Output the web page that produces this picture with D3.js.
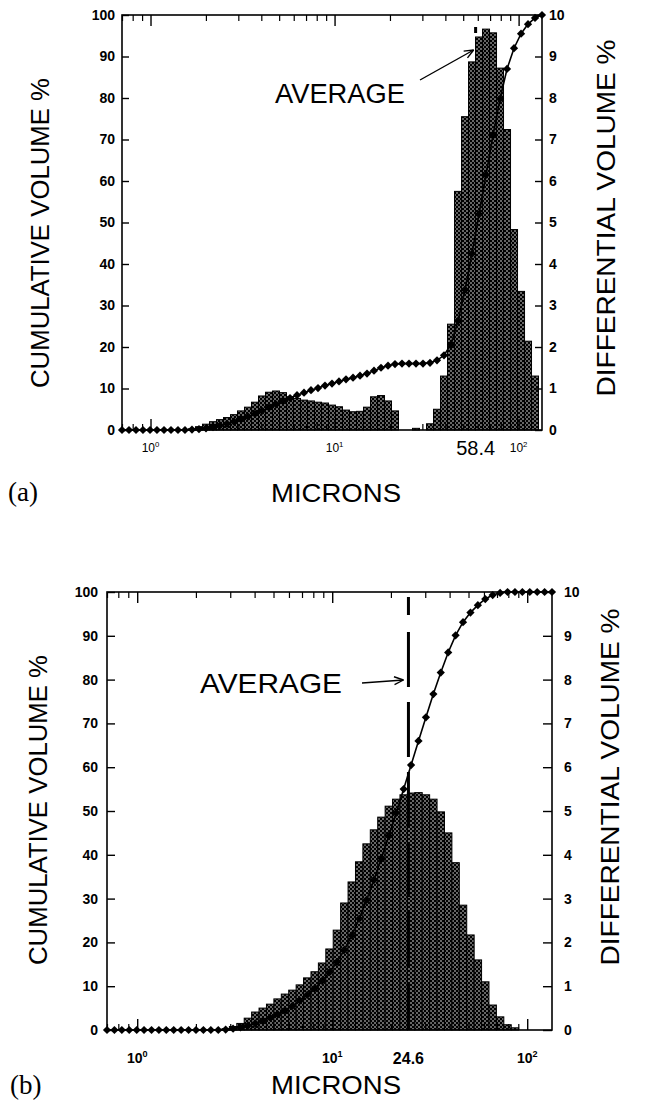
<!DOCTYPE html>
<html><head><meta charset="utf-8">
<script src="https://cdn.jsdelivr.net/npm/d3@7"></script>
<style>body{margin:0;background:#fff}svg{display:block}</style>
</head><body>
<svg id="c" width="645" height="1114"></svg>
<script>
// ---------- DATA ----------
const sizes = [0.700,0.764,0.834,0.910,0.994,1.084,1.184,1.292,1.410,1.539,1.680,1.834,2.002,2.185,2.385,2.604,2.842,3.102,3.386,3.696,4.034,4.404,4.807,5.247,5.727,6.252,6.824,7.447,8.130,8.874,9.686,10.57,11.54,12.60,13.75,15.01,16.38,17.88,19.52,21.30,23.25,25.38,27.70,30.24,33.01,36.03,39.33,42.93,46.86,51.15,55.84,60.94,66.52,72.61,79.26,86.51,94.43,103.1,112.5,122.8,134.0];

const diffA = [0,0,0,0,0,0,0,0,0,0,0.03,0.08,0.14,0.2,0.25,0.3,0.37,0.46,0.55,0.67,0.82,0.91,0.94,0.9,0.8,0.76,0.72,0.7,0.67,0.65,0.6,0.56,0.48,0.44,0.45,0.55,0.8,0.83,0.7,0.46,0,0,0.04,0,0.15,0.5,1.3,2.55,5.75,7.55,8.87,9.47,9.66,9.57,8.72,7.24,4.83,3.34,2.14,1.3,0];
const cumA = [0,0,0,0,0,0,0,0,0,0,0.1,0.2,0.4,0.7,1.1,1.5,2.0,2.6,3.2,3.9,4.6,5.4,6.2,7.0,7.7,8.4,9.0,9.6,10.1,10.7,11.2,11.7,12.2,12.6,13.1,13.6,14.3,15.0,15.5,15.9,16.0,16.0,16.0,16.0,16.2,16.8,18.0,20.6,26.3,33.8,42.5,52.0,61.5,71.0,79.8,87.0,92.0,95.5,97.8,99.3,100];

const diffB = [0,0,0,0,0,0,0,0,0,0,0,0,0,0,0,0,0.03,0.08,0.15,0.27,0.41,0.5,0.59,0.71,0.82,0.91,1.03,1.19,1.33,1.53,1.85,2.28,2.9,3.38,3.84,4.25,4.57,4.86,5.11,5.27,5.37,5.41,5.42,5.37,5.27,4.98,4.5,3.82,2.85,2.17,1.6,1.1,0.57,0.3,0.12,0.05,0,0,0,0,0];
const cumB = [0,0,0,0,0,0,0,0,0,0,0,0,0,0,0,0,0.1,0.3,0.6,1.0,1.5,2.1,2.8,3.6,4.5,5.5,6.7,8.0,9.5,11.2,13.2,15.5,18.3,21.6,25.4,29.7,34.3,39.2,44.3,49.6,55.0,60.5,66.0,71.4,76.7,81.6,86.2,90.1,93.1,95.3,97.0,98.4,99.3,99.8,100,100,100,100,100,100,100];

const averageA = 58.4, averageB = 24.6;
const leftTicks = [0,10,20,30,40,50,60,70,80,90,100];
const rightTicks = [0,1,2,3,4,5,6,7,8,9,10];
const xMajor = [1,10,100];
const xMinor = [0.7,0.8,0.9,2,3,4,5,6,7,8,9,20,30,40,50,60,70,80,90];
const xDecadeLabels = [{v:1,e:"0"},{v:10,e:"1"},{v:100,e:"2"}];
const texts = {yLeft:"CUMULATIVE VOLUME %", yRight:"DIFFERENTIAL VOLUME %", x:"MICRONS", avg:"AVERAGE"};

// ---------- LAYOUT ----------
const A = {x0:122,x1:542,y0:15,y1:430, tickL:7,tickR:7,padL:7,padR:7, lblFont:14, decFont:12, decBase:452, avgFont:20, avgBase:455, bold:"normal",
  tag:"(a)", tagX:8, tagY:501, micX:336, micY:502, yLx:40, yLy:233, yRx:606, yRy:218,
  avgTx:275, avgTy:103, avgTs:27, avgTl:130, arr:[420,80,-2,50], dashTop:27, dash:"6 40", dashBelow:true};
const B = {x0:107,x1:552,y0:592,y1:1030, tickL:8,tickR:9,padL:9,padR:12, lblFont:14, decFont:14, decBase:1063, avgFont:16, avgBase:1064, bold:"bold",
  tag:"(b)", tagX:10, tagY:1094, micX:336, micY:1094, yLx:38, yLy:810, yRx:610, yRy:787,
  avgTx:200, avgTy:693, avgTs:28, avgTl:142, arr:[362,683,-5,680], dashTop:597, dash:"18 17 55 15 55 15 55 15 55 15 55 15 55 15 55 15", dashBelow:false};

const svg = d3.select('#c');
const SANS = "'Liberation Sans', Arial, Helvetica, sans-serif";
const defs = svg.append('defs');
const pat = defs.append('pattern').attr('id','dots').attr('patternUnits','userSpaceOnUse')
  .attr('width',4).attr('height',4);
pat.append('rect').attr('width',4).attr('height',4).attr('fill','#000');
pat.append('circle').attr('cx',1).attr('cy',1).attr('r',0.75).attr('fill','#fff');
pat.append('circle').attr('cx',3).attr('cy',3).attr('r',0.75).attr('fill','#fff');

function panel(P, cum, diff, avg) {
  const g = svg.append('g');
  const x = d3.scaleLog().domain([sizes[0], sizes[sizes.length-1]]).range([P.x0, P.x1]);
  const yC = d3.scaleLinear().domain([0,100]).range([P.y1, P.y0]);
  const yD = d3.scaleLinear().domain([0,10]).range([P.y1, P.y0]);
  const n = sizes.length;
  const edgeLo = i => i === 0 ? sizes[0] : Math.sqrt(sizes[i-1]*sizes[i]);
  const edgeHi = i => i === n-1 ? sizes[n-1] : Math.sqrt(sizes[i]*sizes[i+1]);

  const avgLine = () => g.append('line')
      .attr('x1', x(avg)).attr('x2', x(avg)).attr('y1', P.dashTop).attr('y2', P.y1)
      .attr('stroke','#000').attr('stroke-width',3).attr('stroke-dasharray', P.dash);
  if (P.dashBelow) avgLine();

  // bars
  g.append('g').selectAll('rect').data(diff.map((v,i)=>({v,i})).filter(d=>d.v>0)).join('rect')
    .attr('x', d=>x(edgeLo(d.i))).attr('width', d=>x(edgeHi(d.i))-x(edgeLo(d.i)))
    .attr('y', d=>yD(d.v)).attr('height', d=>P.y1-yD(d.v))
    .attr('fill','url(#dots)').attr('stroke','#000').attr('stroke-width',1);

  if (!P.dashBelow) avgLine();

  // axes
  const styleText = s => s.selectAll('text').attr('font-family',SANS).attr('font-size',P.lblFont)
      .attr('font-weight','bold').attr('fill','#000');
  g.append('g').attr('transform',`translate(${P.x0},0)`)
    .call(d3.axisLeft(yC).tickValues(leftTicks).tickSize(-P.tickL).tickSizeOuter(0).tickPadding(P.padL))
    .call(s=>s.select('.domain').remove()).call(styleText)
    .call(s=>s.selectAll('line').attr('stroke-width',1.4));
  g.append('g').attr('transform',`translate(${P.x1},0)`)
    .call(d3.axisRight(yD).tickValues(rightTicks).tickSize(-P.tickR).tickSizeOuter(0).tickPadding(P.padR))
    .call(s=>s.select('.domain').remove()).call(styleText)
    .call(s=>s.selectAll('line').attr('stroke-width',1.4));
  [[d3.axisTop, P.y0],[d3.axisBottom, P.y1]].forEach(([ax, yy]) => {
    g.append('g').attr('transform',`translate(0,${yy})`)
      .call(ax(x).tickValues(xMajor).tickSize(-11).tickSizeOuter(0).tickFormat(''))
      .call(s=>s.select('.domain').remove()).call(s=>s.selectAll('line').attr('stroke-width',1.4));
    g.append('g').attr('transform',`translate(0,${yy})`)
      .call(ax(x).tickValues(xMinor).tickSize(-6).tickSizeOuter(0).tickFormat(''))
      .call(s=>s.select('.domain').remove()).call(s=>s.selectAll('line').attr('stroke-width',1.2));
  });

  // cumulative curve
  g.append('path').datum(cum.map((v,i)=>[sizes[i],v]))
    .attr('d', d3.line().x(d=>x(d[0])).y(d=>yC(d[1])))
    .attr('fill','none').attr('stroke','#000').attr('stroke-width',1.6);
  const sym = d3.symbol(d3.symbolSquare, 34);
  g.append('g').selectAll('path').data(cum.map((v,i)=>[sizes[i],v])).join('path')
    .attr('d', sym).attr('transform', d=>`translate(${x(d[0])},${yC(d[1])}) rotate(45)`).attr('fill','#000');

  // frame
  g.append('rect').attr('x',P.x0).attr('y',P.y0).attr('width',P.x1-P.x0).attr('height',P.y1-P.y0)
    .attr('fill','none').attr('stroke','#000').attr('stroke-width',1.6);

  // x tick labels
  xDecadeLabels.forEach(d => {
    const t = g.append('text').attr('x', x(d.v)).attr('y', P.decBase).attr('text-anchor','middle')
      .attr('font-family',SANS).attr('font-size',P.decFont).attr('font-weight',P.bold);
    t.append('tspan').text('10');
    t.append('tspan').attr('font-size',P.decFont*0.65).attr('dy',-P.decFont*0.4).text(d.e);
  });
  g.append('text').attr('x', x(avg)).attr('y', P.avgBase).attr('text-anchor','middle')
    .attr('font-family',SANS).attr('font-size',P.avgFont).attr('font-weight',P.bold).text(avg.toFixed(1));

  // titles
  g.append('text').attr('transform',`translate(${P.yLx},${P.yLy}) rotate(-90)`).attr('text-anchor','middle')
    .attr('dominant-baseline','central').attr('font-family',SANS).attr('font-size',25)
    .attr('textLength',310).attr('lengthAdjust','spacingAndGlyphs').text(texts.yLeft);
  g.append('text').attr('transform',`translate(${P.yRx},${P.yRy}) rotate(-90)`).attr('text-anchor','middle')
    .attr('dominant-baseline','central').attr('font-family',SANS).attr('font-size',25)
    .attr('textLength',357).attr('lengthAdjust','spacingAndGlyphs').text(texts.yRight);
  g.append('text').attr('x',P.micX).attr('y',P.micY).attr('text-anchor','middle')
    .attr('font-family',SANS).attr('font-size',25).attr('textLength',130).attr('lengthAdjust','spacingAndGlyphs').text(texts.x);
  g.append('text').attr('x',P.tagX).attr('y',P.tagY).attr('font-family',"'Liberation Serif','Times New Roman',serif")
    .attr('font-size',27).text(P.tag);

  // AVERAGE annotation
  g.append('text').attr('x',P.avgTx).attr('y',P.avgTy).attr('font-family',SANS).attr('font-size',P.avgTs)
    .attr('textLength',P.avgTl).attr('lengthAdjust','spacingAndGlyphs').text(texts.avg);
  const [ax0, ay0, dx, ay1] = P.arr;
  const ax1 = x(avg) + dx;
  g.append('line').attr('x1',ax0).attr('y1',ay0).attr('x2',ax1).attr('y2',ay1)
    .attr('stroke','#000').attr('stroke-width',1.4);
  const ang = Math.atan2(ay1-ay0, ax1-ax0);
  [0.4,-0.4].forEach(o => {
    g.append('line').attr('x1',ax1).attr('y1',ay1)
      .attr('x2',ax1 - 10*Math.cos(ang+o)).attr('y2',ay1 - 10*Math.sin(ang+o))
      .attr('stroke','#000').attr('stroke-width',1.4);
  });
}
panel(A, cumA, diffA, averageA);
panel(B, cumB, diffB, averageB);
</script>
</body></html>
